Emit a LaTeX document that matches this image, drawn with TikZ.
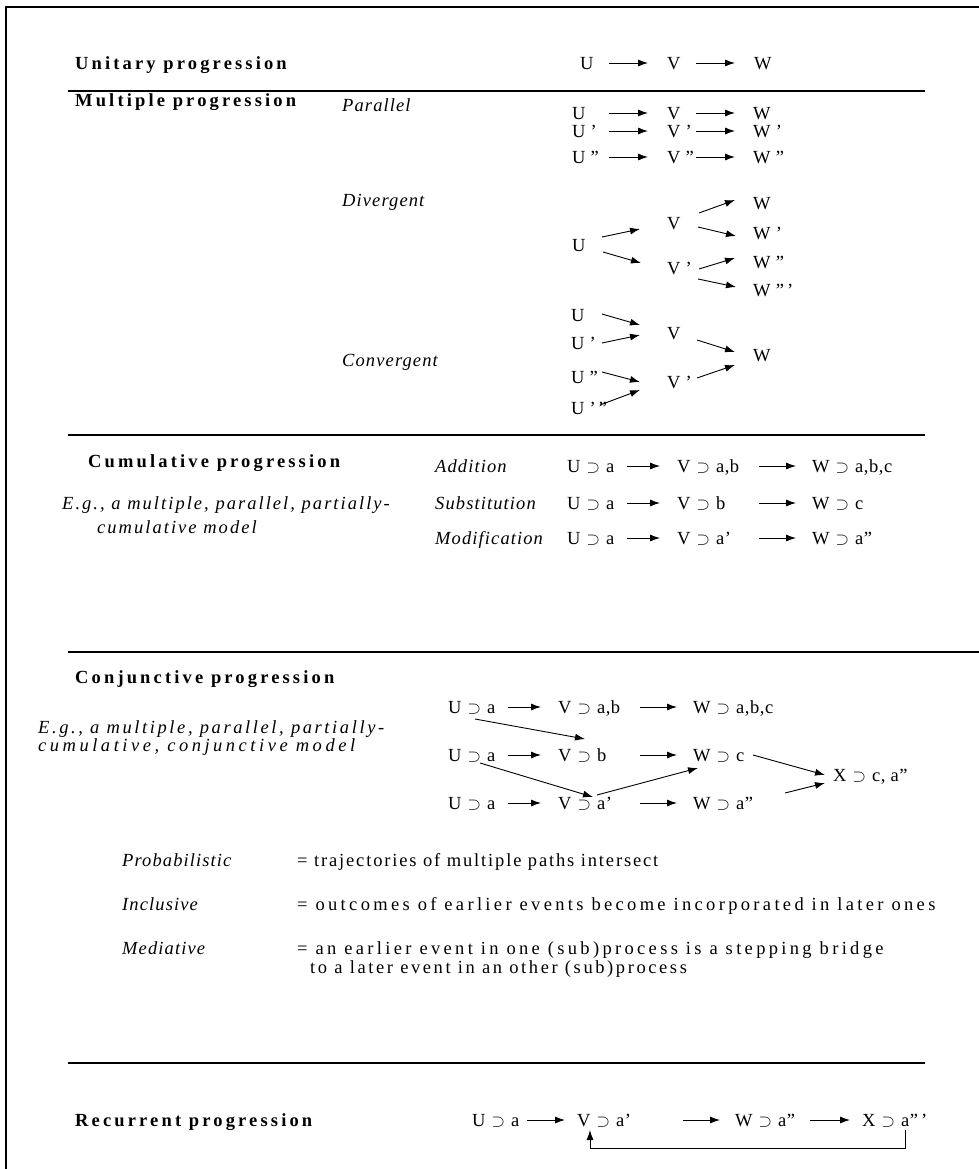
\documentclass[tikz,border=0pt]{standalone}
\usepackage{fontspec}
\setmainfont{Liberation Serif}
\newfontfamily\headfont[LetterSpace=17]{Liberation Serif}
\newfontfamily\labelfont[LetterSpace=6]{Liberation Serif}
\newfontfamily\examplefont[LetterSpace=11]{Liberation Serif}
\newfontfamily\examplewidefont[LetterSpace=14]{Liberation Serif}
\newfontfamily\examplewiderfont[LetterSpace=19]{Liberation Serif}
\newfontfamily\termfont[LetterSpace=3]{Liberation Serif}
\newfontfamily\notefont[LetterSpace=10]{Liberation Serif}
\newfontfamily\notewidefont[LetterSpace=18]{Liberation Serif}
\newfontfamily\notemidfont[LetterSpace=14]{Liberation Serif}
\usetikzlibrary{arrows.meta}

% "contains" sign between an event and its content
\newcommand\incl{\hspace{6pt}$\supset$\hspace{6pt}}
\newcommand\sz{\fontsize{18.5}{21}\selectfont}

\tikzset{
  base/.style={inner sep=0pt, anchor=west, text height=12.2pt, text depth=0pt},
  head/.style={base, font=\sz\headfont\bfseries},
  lab/.style={base, font=\sz\labelfont\itshape},
  example/.style={base, font=\sz\examplefont\itshape},
  examplewide/.style={base, font=\sz\examplewidefont\itshape},
  examplewider/.style={base, font=\sz\examplewiderfont\itshape},
  term/.style={base, font=\sz\termfont},
  note/.style={base, font=\sz\notefont},
  notewide/.style={base, font=\sz\notewidefont},
  notemid/.style={base, font=\sz\notemidfont},
  arr/.style={-{Latex[length=10pt,width=7pt]}, line width=0.9pt},
  rule/.style={line width=1.2pt},
}

\begin{document}
\begin{tikzpicture}[x=1pt,y=-1pt]
\useasboundingbox (0,0) rectangle (979,1169);
% frame
\draw[line width=2pt] (6,1169) -- (6,7) -- (979,7);

% ---------- unitary
\node[head] (hU) at (75,63) {Unitary progression};
\node[term] (u0) at (580,63) {U};
\node[term] (v0) at (667,63) {V};
\node[term] (w0) at (754,63) {W};
\draw[arr] ([shift={(29,0)}]u0.west) -- ([shift={(-19,0)}]v0.west);
\draw[arr] ([shift={(29,0)}]v0.west) -- ([shift={(-19,0)}]w0.west);
\draw[rule] (68,91) -- (925,91);

% ---------- multiple
\node[head] (hM) at (75,100) {Multiple progression};
\node[lab] (lPar) at (342,105) {Parallel};
\node[term] (pu1) at (572,113) {U};
\node[term] (pv1) at (667,113) {V};
\node[term] (pw1) at (753,113) {W};
\node[term] (pu2) at (572,131) {U ’};
\node[term] (pv2) at (667,131) {V ’};
\node[term] (pw2) at (753,131) {W ’};
\node[term] (pu3) at (572,157) {U ”};
\node[term] (pv3) at (667,157) {V ”};
\node[term] (pw3) at (753,157) {W ”};
\foreach \r in {1,2,3}{
  \draw[arr] ([shift={(37,0)}]pu\r.west) -- ([shift={(-19,0)}]pv\r.west);
  \draw[arr] ([shift={(29,0)}]pv\r.west) -- ([shift={(-18,0)}]pw\r.west);
}

\node[lab] (lDiv) at (342,200) {Divergent};
\node[term] (du) at (572,245) {U};
\node[term] (dv1) at (667,223) {V};
\node[term] (dv2) at (667,268) {V ’};
\node[term] (dw1) at (753,203) {W};
\node[term] (dw2) at (753,233) {W ’};
\node[term] (dw3) at (753,262) {W ”};
\node[term] (dw4) at (753,290) {W ”\,’};
\draw[arr] ([shift={(30,-8)}]du.west) -- ([shift={(-27,6)}]dv1.west);
\draw[arr] ([shift={(31,7)}]du.west) -- ([shift={(-26,-5)}]dv2.west);
\draw[arr] ([shift={(32,-10)}]dv1.west) -- ([shift={(-18,-3)}]dw1.west);
\draw[arr] ([shift={(31,4)}]dv1.west) -- ([shift={(-17,3)}]dw2.west);
\draw[arr] ([shift={(32,1)}]dv2.west) -- ([shift={(-18,-4)}]dw3.west);
\draw[arr] ([shift={(31,11)}]dv2.west) -- ([shift={(-17,-3)}]dw4.west);

\node[lab] (lCon) at (342,360) {Convergent};
\node[term] (cu1) at (571,315) {U};
\node[term] (cu2) at (571,343) {U ’};
\node[term] (cu3) at (571,377) {U ”};
\node[term] (cu4) at (571,408) {U ’\,”};
\node[term] (cv1) at (667,333) {V};
\node[term] (cv2) at (667,382) {V ’};
\node[term] (cw) at (753,355) {W};
\draw[arr] ([shift={(31,-1)}]cu1.west) -- ([shift={(-27,-8)}]cv1.west);
\draw[arr] ([shift={(31,0)}]cu2.west) -- ([shift={(-27,2)}]cv1.west);
\draw[arr] ([shift={(31,-5)}]cu3.west) -- ([shift={(-27,0)}]cv2.west);
\draw[arr] ([shift={(29,-3)}]cu4.west) -- ([shift={(-27,8)}]cv2.west);
\draw[arr] ([shift={(30,7)}]cv1.west) -- ([shift={(-18,-3)}]cw.west);
\draw[arr] ([shift={(30,-4)}]cv2.west) -- ([shift={(-18,10)}]cw.west);
\draw[rule] (68,435) -- (925,435);

% ---------- cumulative
\node[head] (hC) at (88,461) {Cumulative progression};
\node[example] (eg1a) at (62,503) {E.g., a multiple, parallel, partially-};
\node[example] (eg1b) at (97,527) {cumulative model};
\node[lab] (lAdd) at (435,466) {Addition};
\node[lab] (lSub) at (435,503) {Substitution};
\node[lab] (lMod) at (435,538) {Modification};
\node[term] (au) at (567,466) {U\incl a};
\node[term] (av) at (677,466) {V\incl a,b};
\node[term] (aw) at (812,466) {W\incl a,b,c};
\node[term] (su) at (567,503) {U\incl a};
\node[term] (sv) at (677,503) {V\incl b};
\node[term] (sw) at (812,503) {W\incl c};
\node[term] (mu) at (567,538) {U\incl a};
\node[term] (mv) at (677,538) {V\incl a’};
\node[term] (mw) at (812,538) {W\incl a”};
\foreach \r in {a,s,m}{
  \draw[arr] ([shift={(60,0)}]\r u.west) -- ([shift={(-17,0)}]\r v.west);
  \draw[arr] ([shift={(82,0)}]\r v.west) -- ([shift={(-16,0)}]\r w.west);
}
\draw[rule] (68,652) -- (979,652);

% ---------- conjunctive
\node[head] (hJ) at (75,677) {Conjunctive progression};
\node[examplewide] (eg2a) at (38,727) {E.g., a multiple, parallel, partially-};
\node[examplewider] (eg2b) at (38,745) {cumulative, conjunctive model};
\node[term] (ju1) at (448,707) {U\incl a};
\node[term] (jv1) at (558,707) {V\incl a,b};
\node[term] (jw1) at (693,707) {W\incl a,b,c};
\node[term] (ju2) at (448,755) {U\incl a};
\node[term] (jv2) at (558,755) {V\incl b};
\node[term] (jw2) at (693,755) {W\incl c};
\node[term] (ju3) at (448,803) {U\incl a};
\node[term] (jv3) at (558,803) {V\incl a’};
\node[term] (jw3) at (693,803) {W\incl a”};
\node[term] (jx) at (833,775) {X\incl c, a”};
\foreach \r in {1,2,3}{
  \draw[arr] ([shift={(60,0)}]ju\r.west) -- ([shift={(-17,0)}]jv\r.west);
  \draw[arr] ([shift={(82,0)}]jv\r.west) -- ([shift={(-16,0)}]jw\r.west);
}
\draw[arr] ([shift={(27,12)}]ju1.west) -- ([shift={(27,-16)}]jv2.west);
\draw[arr] ([shift={(32,8)}]ju2.west) -- ([shift={(35,-6)}]jv3.west);
\draw[arr] ([shift={(39,-8)}]jv3.west) -- ([shift={(5,13)}]jw2.west);
\draw[arr] ([shift={(60,0)}]jw2.west) -- ([shift={(-8,0)}]jx.west);
\draw[arr] ([shift={(92,-10)}]jw3.west) -- ([shift={(-8,8)}]jx.west);

\node[lab] (lPro) at (122,860) {Probabilistic};
\node[note] (tPro) at (297,860) {= trajectories of multiple paths intersect};
\node[lab] (lInc) at (122,904) {Inclusive};
\node[notewide] (tInc) at (297,904) {= outcomes of earlier events become incorporated in later ones};
\node[lab] (lMed) at (122,948) {Mediative};
\node[notewide] (tMed) at (297,948) {= an earlier event in one (sub)process is a stepping bridge};
\node[notemid] (tMed2) at (310,967) {to a later event in an other (sub)process};
\draw[rule] (68,1063) -- (925,1063);

% ---------- recurrent
\node[head] (hR) at (75,1120) {Recurrent progression};
\node[term] (ru) at (472,1120) {U\incl a};
\node[term] (rv) at (577,1120) {V\incl a’};
\node[term] (rw) at (735,1120) {W\incl a”};
\node[term] (rx) at (862,1120) {X\incl a”\,’};
\draw[arr] ([shift={(55,0)}]ru.west) -- ([shift={(-12,0)}]rv.west);
\draw[arr] ([shift={(106,0)}]rv.west) -- ([shift={(-15,0)}]rw.west);
\draw[arr] ([shift={(75,0)}]rw.west) -- ([shift={(-12,0)}]rx.west);
\draw[arr] ([shift={(43,10)}]rx.west) -- ++(0,18) -| ([shift={(13,10)}]rv.west);
\end{tikzpicture}
\end{document}
